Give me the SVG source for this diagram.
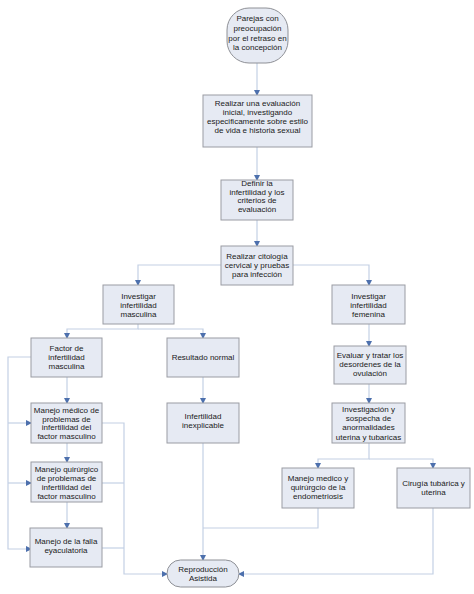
<svg xmlns="http://www.w3.org/2000/svg" width="474" height="594" viewBox="0 0 474 594">
<style>
.box{fill:#e6eaf3;stroke:#9a9ca3;stroke-width:1}
.term{fill:#e6eaf3;stroke:#8e9096;stroke-width:1}
.ln{fill:none;stroke:#c3d0e4;stroke-width:1.2}
text{font-family:"Liberation Sans",Arial,sans-serif;font-size:8px;fill:#1a1a1a;text-anchor:middle}
</style>
<defs>
<marker id="ah" markerWidth="6" markerHeight="6" refX="5" refY="3" orient="auto" markerUnits="userSpaceOnUse">
<path d="M0,0 L6,3 L0,6 Z" fill="#4d70ad"/>
</marker>
</defs>
<rect width="474" height="594" fill="#ffffff"/>
<g id="connectors">
<path class="ln" d="M257,63 V95" marker-end="url(#ah)"/>
<path class="ln" d="M257,147 V180" marker-end="url(#ah)"/>
<path class="ln" d="M257,220 V246" marker-end="url(#ah)"/>
<path class="ln" d="M221,265 H138 V285" marker-end="url(#ah)"/>
<path class="ln" d="M293,265 H369 V285" marker-end="url(#ah)"/>
<path class="ln" d="M138,324 V329 H67 V338" marker-end="url(#ah)"/>
<path class="ln" d="M138,329 H203 V338" marker-end="url(#ah)"/>
<path class="ln" d="M369,324 V346" marker-end="url(#ah)"/>
<path class="ln" d="M369,384 V403" marker-end="url(#ah)"/>
<path class="ln" d="M369,443 V459 H318 V468" marker-end="url(#ah)"/>
<path class="ln" d="M369,459 H433 V468" marker-end="url(#ah)"/>
<path class="ln" d="M203,377 V403" marker-end="url(#ah)"/>
<path class="ln" d="M203,443 V560" marker-end="url(#ah)"/>
<path class="ln" d="M318,508 V528 H203"/>
<path class="ln" d="M433,508 V574 H239" marker-end="url(#ah)"/>
<path class="ln" d="M67,377 V403" marker-end="url(#ah)"/>
<path class="ln" d="M67,443 V462" marker-end="url(#ah)"/>
<path class="ln" d="M67,502 V528" marker-end="url(#ah)"/>
<path class="ln" d="M31,357 H8 V549 H31" marker-end="url(#ah)"/>
<path class="ln" d="M8,423 H31" marker-end="url(#ah)"/>
<path class="ln" d="M8,483 H31" marker-end="url(#ah)"/>
<path class="ln" d="M102,423 H124 V574 H167" marker-end="url(#ah)"/>
<path class="ln" d="M102,483 H124"/>
<path class="ln" d="M102,548 H124"/>
</g>
<g id="n1">
<rect class="term" x="227" y="8" width="61" height="55" rx="22" ry="22"/>
<text x="257.5" y="21">Parejas con</text>
<text x="257.5" y="31">preocupación</text>
<text x="257.5" y="40.5">por el retraso en</text>
<text x="257.5" y="50">la concepción</text>
</g>
<g id="n2">
<rect class="box" x="203" y="95" width="109" height="52"/>
<text x="257.5" y="106">Realizar  una evaluación</text>
<text x="257.5" y="115">inicial, investigando</text>
<text x="257.5" y="124">especificamente sobre estilo</text>
<text x="257.5" y="133">de vida e historia sexual</text>
</g>
<g id="n3">
<rect class="box" x="221" y="180" width="72" height="40"/>
<text x="257" y="186">Definir la</text>
<text x="257" y="194.5">infertilidad y los</text>
<text x="257" y="203">criterios de</text>
<text x="257" y="211.5">evaluación</text>
</g>
<g id="n4">
<rect class="box" x="221" y="246" width="72" height="39"/>
<text x="257" y="259">Realizar citología</text>
<text x="257" y="268">cervical y pruebas</text>
<text x="257" y="277">para infección</text>
</g>
<g id="n5">
<rect class="box" x="103" y="285" width="71" height="39"/>
<text x="138.5" y="299">Investigar</text>
<text x="138.5" y="308">infertilidad</text>
<text x="138.5" y="317">masculina</text>
</g>
<g id="n6">
<rect class="box" x="332" y="285" width="73" height="39"/>
<text x="368.5" y="299">Investigar</text>
<text x="368.5" y="308">infertilidad</text>
<text x="368.5" y="317">femenina</text>
</g>
<g id="n7">
<rect class="box" x="31" y="338" width="71" height="39"/>
<text x="66.5" y="351">Factor de</text>
<text x="66.5" y="360">infertilidad</text>
<text x="66.5" y="369">masculina</text>
</g>
<g id="n8">
<rect class="box" x="167" y="338" width="72" height="39"/>
<text x="203" y="360">Resultado normal</text>
</g>
<g id="n9">
<rect class="box" x="334" y="346" width="72" height="38"/>
<text x="370" y="358">Evaluar y tratar los</text>
<text x="370" y="367">desordenes de la</text>
<text x="370" y="376">ovulación</text>
</g>
<g id="n10">
<rect class="box" x="31" y="403" width="71" height="40"/>
<text x="66.5" y="413">Manejo médico de</text>
<text x="66.5" y="421.5">problemas de</text>
<text x="66.5" y="430">infertilidad del</text>
<text x="66.5" y="439">factor masculino</text>
</g>
<g id="n11">
<rect class="box" x="167" y="403" width="72" height="40"/>
<text x="203" y="419">Infertilidad</text>
<text x="203" y="428">inexplicable</text>
</g>
<g id="n12">
<rect class="box" x="332" y="403" width="73" height="40"/>
<text x="368.5" y="412">Investigación y</text>
<text x="368.5" y="421">sospecha de</text>
<text x="368.5" y="430">anormalidades</text>
<text x="368.5" y="439.5">uterina y tubaricas</text>
</g>
<g id="n13">
<rect class="box" x="31" y="462" width="71" height="40"/>
<text x="66.5" y="472">Manejo quirúrgico</text>
<text x="66.5" y="481">de problemas de</text>
<text x="66.5" y="490">infertilidad del</text>
<text x="66.5" y="499">factor masculino</text>
</g>
<g id="n14">
<rect class="box" x="282" y="468" width="72" height="40"/>
<text x="318" y="481">Manejo medico y</text>
<text x="318" y="490">quirúrgcio de la</text>
<text x="318" y="499">endometriosis</text>
</g>
<g id="n15">
<rect class="box" x="397" y="468" width="73" height="40"/>
<text x="433.5" y="486">Cirugía tubárica y</text>
<text x="433.5" y="495">uterina</text>
</g>
<g id="n16">
<rect class="box" x="30" y="528" width="72" height="39"/>
<text x="66" y="544">Manejo de la falla</text>
<text x="66" y="553">eyaculatoria</text>
</g>
<g id="n17">
<rect class="term" x="167" y="560" width="72" height="27" rx="13.5" ry="13.5"/>
<text x="203" y="571.5">Reproducción</text>
<text x="203" y="580.5">Asistida</text>
</g>
</svg>
